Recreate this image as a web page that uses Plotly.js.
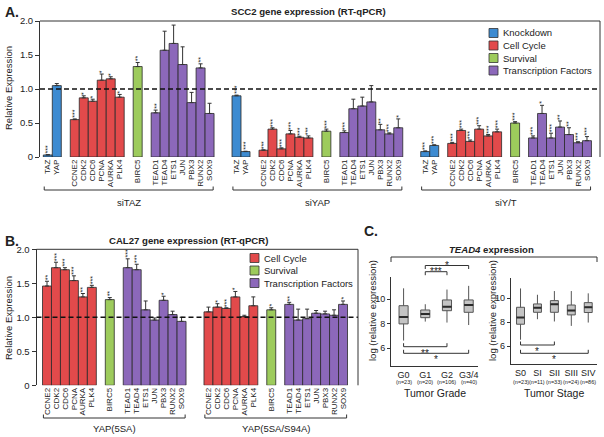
<!DOCTYPE html>
<html><head><meta charset="utf-8">
<script src="https://cdn.plot.ly/plotly-3.0.1.min.js"></script>
<style>html,body{margin:0;padding:0;background:#fff;}#chart{width:604px;height:437px;}</style>
</head><body><div id="chart"></div>
<script>
// ================= DATA =================
// Panel A: SCC2 (RT-qPCR)
const genesA = ['TAZ','YAP','CCNE2','CDK2','CDC6','PCNA','AURKA','PLK4','BIRC5','TEAD1','TEAD4','ETS1','JUN','PBX3','RUNX2','SOX9'];
const groupsA = ['Knockdown','Knockdown','Cell Cycle','Cell Cycle','Cell Cycle','Cell Cycle','Cell Cycle','Cell Cycle','Survival',
  'Transcription Factors','Transcription Factors','Transcription Factors','Transcription Factors','Transcription Factors','Transcription Factors','Transcription Factors'];
const conditionsA = ['siTAZ','siYAP','siY/T'];
const siTAZ_val  = [0.03,1.05,0.55,0.87,0.82,1.13,1.15,0.88,1.33,0.65,1.57,1.67,1.36,0.80,1.31,0.64];
const siTAZ_err  = [0.005,0.03,0.01,0.03,0.03,0.09,0.03,0.04,0.06,0.04,0.28,0.27,0.26,0.15,0.06,0.15];
const siTAZ_sig  = ['***','','***','*','*','*','*','*','**','**','','','','','**',''];
const siYAP_val  = [0.90,0.08,0.10,0.41,0.12,0.34,0.29,0.28,0.38,0.36,0.71,0.75,0.81,0.40,0.34,0.43];
const siYAP_err  = [0.01,0.005,0.005,0.02,0.015,0.05,0.015,0.03,0.03,0.025,0.14,0.13,0.24,0.08,0.015,0.13];
const siYAP_sig  = ['***','***','***','***','***','***','***','***','***','***','','','','**','***','*'];
const siYT_val   = [0.08,0.17,0.20,0.39,0.23,0.41,0.31,0.37,0.50,0.28,0.64,0.28,0.44,0.33,0.21,0.24];
const siYT_err   = [0.01,0.01,0.015,0.02,0.02,0.05,0.02,0.04,0.02,0.03,0.12,0.07,0.09,0.10,0.015,0.06];
const siYT_sig   = ['***','***','***','***','***','***','***','***','***','***','*','***','**','**','***','***'];

// Panel B: CAL27 (RT-qPCR)
const genesB = ['CCNE2','CDK2','CDC6','PCNA','AURKA','PLK4','BIRC5','TEAD1','TEAD4','ETS1','JUN','PBX3','RUNX2','SOX9'];
const groupsB = ['Cell Cycle','Cell Cycle','Cell Cycle','Cell Cycle','Cell Cycle','Cell Cycle','Survival',
  'Transcription Factors','Transcription Factors','Transcription Factors','Transcription Factors','Transcription Factors','Transcription Factors','Transcription Factors'];
const conditionsB = ['YAP(5SA)','YAP(5SA/S94A)'];
const yap5SA_val = [1.46,1.73,1.70,1.54,1.30,1.44,1.26,1.73,1.70,1.11,0.96,1.25,1.04,0.94];
const yap5SA_err = [0.07,0.08,0.03,0.07,0.05,0.03,0.03,0.13,0.08,0.13,0.03,0.06,0.05,0.06];
const yap5SA_sig = ['**','***','***','***','**','***','**','***','***','','','*','',''];
const yapS94A_val = [1.08,1.15,1.13,1.30,1.01,1.17,1.11,1.19,0.96,0.98,1.06,1.05,1.03,1.19];
const yapS94A_err = [0.07,0.05,0.01,0.08,0.02,0.13,0.03,0.03,0.16,0.14,0.04,0.04,0.08,0.05];
const yapS94A_sig = ['','*','***','*','','','*','**','','','','','','*'];

// Panel C: TEAD4 expression box plots
const gradeLabels = ['G0','G1','G2','G3/4'];
const gradeN      = ['(n=23)','(n=20)','(n=106)','(n=40)'];
const gradeLo     = [6.63,8.18,8.10,7.90];
const gradeQ1     = [7.99,8.50,9.07,8.94];
const gradeMed    = [8.56,8.80,9.40,9.54];
const gradeQ3     = [9.48,9.13,9.95,9.95];
const gradeHi     = [10.90,9.60,10.80,11.10];
const stageLabels = ['S0','SI','SII','SIII','SIV'];
const stageN      = ['(n=23)','(n=11)','(n=33)','(n=24)','(n=86)'];
const stageLo     = [6.53,8.25,8.06,7.69,7.97];
const stageQ1     = [7.83,8.83,8.83,8.61,8.81];
const stageMed    = [8.39,9.22,9.50,8.97,9.25];
const stageQ3     = [9.25,9.53,9.81,9.44,9.64];
const stageHi     = [10.83,10.30,10.61,10.61,10.42];
// significance comparisons: [from index, to index, label]
const gradeSigAbove = [[1,2,'***'],[1,3,'*']];
const gradeSigBelow = [[0,2,'**'],[0,3,'*']];
const stageSigBelow = [[0,2,'*'],[0,4,'*']];

// ================= STYLE / LAYOUT HELPERS =================
const W = 604, H = 437;
const X = px => px / W;
const Y = py => 1 - py / H;
const FONT = 'Liberation Sans, Arial, Helvetica, sans-serif';
const TXT = '#222';
const categories = ['Knockdown','Cell Cycle','Survival','Transcription Factors'];
const catColors = {'Knockdown':'#3d8bd1','Cell Cycle':'#e24a4b','Survival':'#9dcb5c','Transcription Factors':'#8c68ba'};

function positions(groups, nCond){
  const out = []; let p = 0;
  for (let c = 0; c < nCond; c++){
    const row = [];
    groups.forEach((g,i)=>{ if (i > 0 && g !== groups[i-1]) p += 1; row.push(p); p += 1; });
    out.push(row); p += 2;
  }
  return out;
}
const posA = positions(groupsA, conditionsA.length);
const posB = positions(groupsB, conditionsB.length);
const valsA = [siTAZ_val, siYAP_val, siYT_val], errsA = [siTAZ_err, siYAP_err, siYT_err], sigA = [siTAZ_sig, siYAP_sig, siYT_sig];
const valsB = [yap5SA_val, yapS94A_val], errsB = [yap5SA_err, yapS94A_err], sigB = [yap5SA_sig, yapS94A_sig];

const traces = [];
const shapes = [];
const annotations = [];

function barPanel(genes, groups, conds, vals, errs, sigs, pos, xa, ya){
  categories.forEach(cat => {
    const x=[], y=[], e=[];
    conds.forEach((c,ci)=>genes.forEach((g,gi)=>{
      if (groups[gi] === cat){ x.push(pos[ci][gi]); y.push(vals[ci][gi]); e.push(errs[ci][gi]); }
    }));
    if (!x.length) return;
    traces.push({type:'bar', x, y, width:1, xaxis:xa, yaxis:ya,
      marker:{color:catColors[cat], line:{color:'#2a2a2a', width:0.8}},
      error_y:{type:'data', symmetric:false, array:e, arrayminus:e.map(()=>0), color:'#333', thickness:1, width:2},
      showlegend:false, hoverinfo:'skip'});
  });
  conds.forEach((c,ci)=>genes.forEach((g,gi)=>{
    const s = sigs[ci][gi];
    if (!s) return;
    annotations.push({x:pos[ci][gi], y:vals[ci][gi]+errs[ci][gi], xref:xa, yref:ya, text:s, textangle:-90,
      showarrow:false, xanchor:'center', yanchor:'bottom', yshift:0, borderpad:0,
      font:{family:FONT, size:7, color:TXT}});
  }));
}
barPanel(genesA, groupsA, conditionsA, valsA, errsA, sigA, posA, 'x', 'y');
barPanel(genesB, groupsB, conditionsB, valsB, errsB, sigB, posB, 'x2', 'y2');

// dashed reference lines and frames
[['x','y'],['x2','y2']].forEach(([xa,ya])=>{
  shapes.push({type:'line', xref:xa+' domain', x0:0, x1:1, yref:ya, y0:1, y1:1, line:{color:'#111', width:1.6, dash:'5px,3px'}});
  shapes.push({type:'line', xref:xa+' domain', x0:0, x1:1, yref:ya+' domain', y0:1, y1:1, line:{color:'#333', width:1}});
  shapes.push({type:'line', xref:xa+' domain', x0:1, x1:1, yref:ya+' domain', y0:0, y1:1, line:{color:'#333', width:1}});
});

// condition brackets
function brackets(conds, pos, xa, yLine, yTick, yLab){
  conds.forEach((c,ci)=>{
    const a = pos[ci][0] - 0.4, b = pos[ci][pos[ci].length-1] + 0.4;
    shapes.push({type:'path', xref:xa, yref:'paper',
      path:`M ${a},${Y(yTick)} L ${a},${Y(yLine)} L ${b},${Y(yLine)} L ${b},${Y(yTick)}`, line:{color:'#333', width:1}});
    annotations.push({x:(pos[ci][0]+pos[ci][pos[ci].length-1])/2, xref:xa, y:Y(yLab), yref:'paper', text:c, showarrow:false,
      xanchor:'center', yanchor:'middle', font:{family:FONT, size:9.5, color:TXT}});
  });
}
brackets(conditionsA, posA, 'x', 190, 186.5, 202);
brackets(conditionsB, posB, 'x2', 418, 414.5, 428.5);

// manual legends
function legend(cats, xSw, rows){
  cats.forEach((cat,i)=>{
    const yc = rows[i];
    shapes.push({type:'rect', xref:'paper', yref:'paper', x0:X(xSw), x1:X(xSw+9), y0:Y(yc+4.5), y1:Y(yc-4.5),
      fillcolor:catColors[cat], line:{color:'#333', width:0.8}});
    annotations.push({x:X(xSw+12), y:Y(yc), xref:'paper', yref:'paper', text:cat, showarrow:false,
      xanchor:'left', yanchor:'middle', font:{family:FONT, size:9.5, color:TXT}});
  });
}
legend(categories, 489, [33, 45.5, 58, 70.5]);
legend(['Cell Cycle','Survival','Transcription Factors'], 250, [258, 270.5, 283]);

// ================= PANEL C: box plots =================
function boxPanel(lo,q1,med,q3,hi,xa,ya,w){
  const xs = med.map((_,i)=>i);
  traces.push({type:'box', x:xs, q1:q1, median:med, q3:q3, lowerfence:lo, upperfence:hi, xaxis:xa, yaxis:ya,
    width:w, fillcolor:'#c4c4c4', line:{color:'#555', width:1}, whiskerwidth:0, boxpoints:false,
    showlegend:false, hoverinfo:'skip'});
  const mx=[], my=[];
  med.forEach((m,i)=>{ mx.push(i-w/2, i+w/2, null); my.push(m, m, null); });
  traces.push({type:'scatter', mode:'lines', x:mx, y:my, xaxis:xa, yaxis:ya, line:{color:'#2a2a2a', width:2},
    showlegend:false, hoverinfo:'skip'});
}
boxPanel(gradeLo,gradeQ1,gradeMed,gradeQ3,gradeHi,'x3','y3',0.42);
boxPanel(stageLo,stageQ1,stageMed,stageQ3,stageHi,'x4','y4',0.47);

function sigBrackets(list, xa, levels, dir){
  // dir: +1 ticks go up (below-plot brackets), -1 ticks go down (above brackets)
  list.forEach(([a,b,lab],k)=>{
    const yl = levels[k], yt = yl - dir*3.5;
    shapes.push({type:'path', xref:xa, yref:'paper',
      path:`M ${a},${Y(yt)} L ${a},${Y(yl)} L ${b},${Y(yl)} L ${b},${Y(yt)}`, line:{color:'#333', width:1}});
    annotations.push({x:(a+b)/2, xref:xa, y:Y(yl), yref:'paper', text:lab, showarrow:false, xanchor:'center',
      yanchor:'middle', yshift: dir>0 ? -6.5 : 0.5, borderpad:0, font:{family:FONT, size:10, color:TXT}});
  });
}
sigBrackets(gradeSigAbove, 'x3', [271.7, 265.5], -1);
sigBrackets(gradeSigBelow, 'x3', [346.7, 353.3], 1);
sigBrackets(stageSigBelow, 'x4', [345, 353.3], 1);

function nLabels(labels, xa, y){
  labels.forEach((t,i)=>annotations.push({x:i, xref:xa, y:Y(y), yref:'paper', text:t, showarrow:false,
    xanchor:'center', yanchor:'middle', font:{family:FONT, size:5.5, color:TXT}}));
}
nLabels(gradeN, 'x3', 381.7);
nLabels(stageN, 'x4', 381.7);

// TEAD4 title bracket
shapes.push({type:'path', xref:'paper', yref:'paper',
  path:`M ${X(391)},${Y(262)} L ${X(391)},${Y(257)} L ${X(597)},${Y(257)} L ${X(597)},${Y(262)}`, line:{color:'#333', width:1}});

// ================= TEXT =================
const txt = (x,y,text,size,opts={}) => annotations.push(Object.assign({x:X(x), y:Y(y), xref:'paper', yref:'paper', text,
  showarrow:false, xanchor:'center', yanchor:'middle', font:{family:FONT, size, color:TXT}}, opts));
txt(3, 12, '<b>A.</b>', 14, {xanchor:'left'});
txt(3, 241, '<b>B.</b>', 14, {xanchor:'left'});
txt(362, 231, '<b>C.</b>', 14, {xanchor:'left'});
txt(308, 11, '<b>SCC2 gene expression (RT-qPCR)</b>', 9.6);
txt(188, 240, '<b>CAL27 gene expression (RT-qPCR)</b>', 9.6);
txt(491, 249, '<b><i>TEAD4</i> expression</b>', 9.6);
txt(8.5, 88.5, 'Relative Expression', 9.5, {textangle:-90});
txt(8, 318, 'Relative Expression', 9.5, {textangle:-90});
txt(372, 311, 'log (relative expression)', 9.5, {textangle:-90});
txt(492, 311, 'log (relative expression)', 9.5, {textangle:-90});
txt(435, 392.5, 'Tumor Grade', 10.5);
txt(554, 392.5, 'Tumor Stage', 10.5);

// ================= AXES =================
const tickFont = {family:FONT, size:9.5, color:TXT};
const geneFont = {family:FONT, size:8, color:TXT};
const flatten = pos => pos.flat();
const layout = {
  width:W, height:H, margin:{l:0,r:0,t:0,b:0}, paper_bgcolor:'#fff', plot_bgcolor:'#fff',
  barmode:'overlay', showlegend:false, font:{family:FONT, color:TXT},
  xaxis:{domain:[X(40),X(600)], range:[-0.87,61.45], anchor:'y', tickvals:flatten(posA),
    ticktext:conditionsA.flatMap(()=>genesA), tickangle:-90, ticks:'', tickfont:geneFont,
    showgrid:false, zeroline:false, showline:false, fixedrange:true},
  yaxis:{domain:[Y(157),Y(21)], range:[0,2], anchor:'x', tickvals:[0,0.5,1,1.5,2], ticktext:['0','0.5','1.0','1.5','2.0'],
    ticks:'outside', ticklen:4, tickcolor:'#333', showline:true, linecolor:'#333', linewidth:1,
    showgrid:false, zeroline:false, tickfont:tickFont, fixedrange:true},
  xaxis2:{domain:[X(36.5),X(358)], range:[-1.17,34.67], anchor:'y2', tickvals:flatten(posB),
    ticktext:conditionsB.flatMap(()=>genesB), tickangle:-90, ticks:'', tickfont:geneFont,
    showgrid:false, zeroline:false, showline:false, fixedrange:true},
  yaxis2:{domain:[Y(385.3),Y(249.3)], range:[0,2], anchor:'x2', tickvals:[0,0.5,1,1.5,2], ticktext:['0','0.5','1.0','1.5','2.0'],
    ticks:'outside', ticklen:4, tickcolor:'#333', showline:true, linecolor:'#333', linewidth:1,
    showgrid:false, zeroline:false, tickfont:tickFont, fixedrange:true},
  xaxis3:{domain:[X(391),X(478)], range:[-0.58,3.43], anchor:'y3', tickvals:gradeLabels.map((_,i)=>i), ticktext:gradeLabels,
    ticks:'', showline:true, linecolor:'#333', linewidth:1, showgrid:false, zeroline:false, tickfont:{family:FONT,size:9,color:TXT}, fixedrange:true},
  yaxis3:{domain:[Y(366),Y(276.7)], range:[4.55,11.85], anchor:'x3', tickvals:[6,8,10],
    ticks:'outside', ticklen:3, tickcolor:'#333', showline:true, linecolor:'#333', linewidth:1,
    showgrid:false, zeroline:false, tickfont:{family:FONT,size:9,color:TXT}, fixedrange:true},
  xaxis4:{domain:[X(510.7),X(596.7)], range:[-0.58,4.5], anchor:'y4', tickvals:stageLabels.map((_,i)=>i), ticktext:stageLabels,
    ticks:'', showline:true, linecolor:'#333', linewidth:1, showgrid:false, zeroline:false, tickfont:{family:FONT,size:9,color:TXT}, fixedrange:true},
  yaxis4:{domain:[Y(364.3),Y(278.3)], range:[4.47,11.68], anchor:'x4', tickvals:[6,8,10],
    ticks:'outside', ticklen:3, tickcolor:'#333', showline:true, linecolor:'#333', linewidth:1,
    showgrid:false, zeroline:false, tickfont:{family:FONT,size:9,color:TXT}, fixedrange:true},
  shapes, annotations
};
Plotly.newPlot('chart', traces, layout, {staticPlot:true, displayModeBar:false});
</script></body></html>
